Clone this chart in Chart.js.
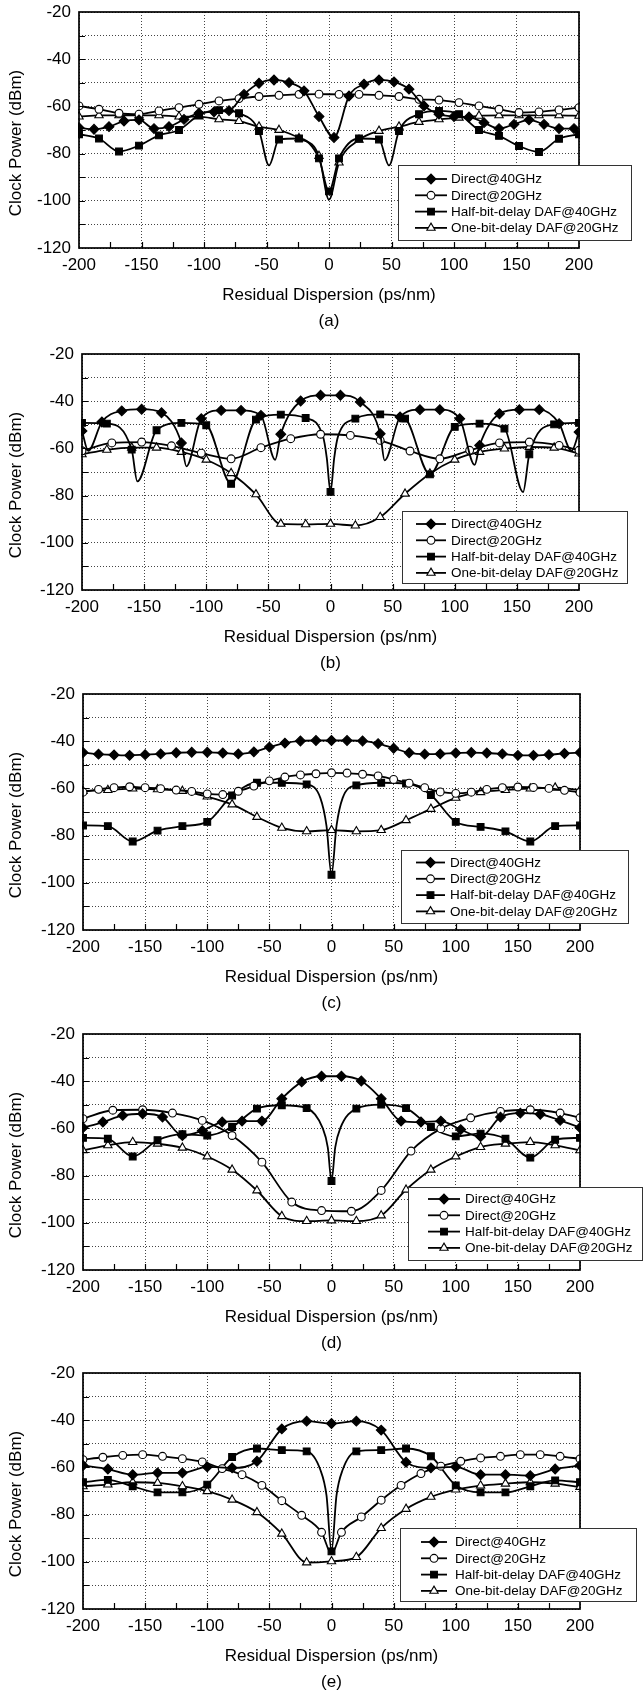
<!DOCTYPE html>
<html><head><meta charset="utf-8">
<script src="https://cdn.jsdelivr.net/npm/chart.js@4.4.1/dist/chart.umd.min.js"></script>
<style>
html,body{margin:0;padding:0;background:#fff;}
body{width:643px;height:1690px;position:relative;overflow:hidden;}
canvas{position:absolute;left:0;}
</style></head><body>
<script>
// ---------- data ----------
const seriesNames = ['Direct@40GHz','Direct@20GHz','Half-bit-delay DAF@40GHz','One-bit-delay DAF@20GHz'];
const panelLabels = ['(a)','(b)','(c)','(d)','(e)'];
const xTitle = 'Residual Dispersion (ps/nm)';
const yTitle = 'Clock Power (dBm)';

// panel (a)
const aDirect40 = [[-200,-69],[-188,-69.7],[-176,-68.6],[-164,-66.2],[-152,-65.7],[-140,-69.4],[-128,-68.6],[-116,-65.5],[-104,-62.9],[-92,-62.3],[-80,-61.8],[-68,-54.9],[-56,-50.2],[-44,-48.8],[-32,-49.9],[-20,-53.4],[-8,-64.3],[4,-73.2],[16,-55.6],[28,-50.6],[40,-48.8],[52,-49.6],[64,-52.7],[76,-59.8],[88,-63.3],[100,-64.3],[112,-64.5],[124,-66.9],[136,-69.4],[148,-67.6],[160,-65.7],[172,-67.6],[184,-69.4],[196,-69.4]];
const aDirect20 = [[-200,-59.8],[-184,-61.2],[-168,-62.9],[-152,-63.3],[-136,-61.9],[-120,-60.5],[-104,-59.1],[-88,-57.7],[-72,-56.7],[-56,-55.8],[-40,-55.3],[-24,-54.9],[-8,-54.8],[8,-54.9],[24,-54.9],[40,-55.3],[56,-55.8],[72,-57],[88,-57.3],[104,-58.4],[120,-59.8],[136,-61.2],[152,-62.6],[168,-62.3],[184,-61.5],[200,-60.5]];
const aHalfBit = [[-200,-71.8],[-184,-73.6],[-168,-79.1],[-152,-76.6],[-136,-72.3],[-120,-70],[-104,-63.7],[-88,-61.6],[-72,-62.9],[-56,-70.4],[-40,-74],[-24,-73.6],[-8,-82],[0,-96],[8,-82],[24,-73.6],[40,-74],[56,-70.4],[72,-63.3],[88,-61.9],[104,-63.3],[120,-70],[136,-72.5],[152,-76.8],[168,-79.3],[184,-73.7],[200,-71.8]];
const aHalfBitTips = [[-48,-85],[48,-85]];
const aOneBit = [[-200,-64.3],[-184,-63.8],[-168,-63.8],[-152,-63.8],[-136,-63.8],[-120,-64.3],[-104,-64.3],[-88,-65.5],[-72,-66.2],[-56,-68.6],[-40,-70],[-24,-73.5],[-8,-81],[8,-83.8],[24,-74.2],[40,-70.4],[56,-68.6],[72,-66.6],[88,-65.5],[104,-64.8],[120,-64],[136,-63.8],[152,-63.8],[168,-63.8],[184,-63.8],[200,-64]];
const aOneBitTips = [[0,-99.5]];

// panel (b)
const bDirect40 = [[-200,-52.6],[-184,-48.8],[-168,-44.1],[-152,-43.4],[-136,-44.9],[-120,-57.7],[-104,-47.4],[-88,-43.9],[-72,-43.9],[-56,-46],[-40,-54],[-24,-39.9],[-8,-37.5],[8,-37.5],[24,-40.3],[40,-53.8],[56,-46.7],[72,-43.6],[88,-43.6],[104,-47.4],[120,-58.7],[136,-45.3],[152,-43.6],[168,-43.6],[184,-49.5],[200,-53.1]];
const bDirect40Tips = [[-195,-61],[-116,-67.6],[-44.5,-64.8],[43.5,-65.1],[116,-67],[194,-61]];
const bDirect20 = [[-200,-61],[-176,-57.7],[-152,-57.3],[-128,-58.9],[-104,-62],[-80,-64.4],[-56,-59.7],[-32,-55.9],[-8,-54],[16,-54.5],[40,-56.6],[64,-61.1],[88,-64.4],[112,-60.8],[136,-57.7],[160,-57.3],[184,-58.7],[200,-60.8]];
const bHalfBit = [[-200,-49.2],[-180,-49.5],[-160,-60.5],[-140,-52.3],[-120,-49.2],[-100,-50.2],[-80,-75],[-60,-47.8],[-40,-45.7],[-20,-47.1],[0,-78.4],[20,-47.4],[40,-45.6],[60,-47.4],[80,-71],[100,-50.9],[120,-49.5],[140,-51.6],[160,-62.5],[180,-49.8],[200,-49.2]];
const bHalfBitTips = [[-155.5,-74],[-6,-55],[-3,-64],[3,-64],[6,-55],[155,-78.5]];
const bOneBit = [[-200,-62.5],[-180,-60.6],[-160,-59.7],[-140,-59.7],[-120,-61.5],[-100,-64.8],[-80,-70.5],[-60,-79.5],[-40,-92],[-20,-92.2],[0,-92],[20,-92.7],[40,-89.1],[60,-79.2],[80,-70.7],[100,-64.8],[120,-61.5],[140,-60.1],[160,-59.4],[180,-59.7],[200,-62.2]];

// panel (c)
const cDirect40 = [[-200,-44.8],[-187.5,-45.5],[-175,-45.8],[-162.5,-46],[-150,-45.7],[-137.5,-45.4],[-125,-44.9],[-112.5,-44.7],[-100,-44.7],[-87.5,-45],[-75,-45.4],[-62.5,-44.5],[-50,-42.5],[-37.5,-40.8],[-25,-39.9],[-12.5,-39.7],[0,-39.7],[12.5,-39.7],[25,-39.9],[37.5,-41],[50,-43],[62.5,-44.9],[75,-45.5],[87.5,-45.4],[100,-45],[112.5,-44.8],[125,-45],[137.5,-45.4],[150,-46],[162.5,-46],[175,-45.7],[187.5,-45.2],[200,-44.8]];
const cDirect20 = [[-200,-61.6],[-187.5,-60.4],[-175,-59.7],[-162.5,-59.3],[-150,-59.7],[-137.5,-60.1],[-125,-60.7],[-112.5,-61.3],[-100,-62.3],[-87.5,-62.6],[-75,-61.2],[-62.5,-59],[-50,-56.8],[-37.5,-55.2],[-25,-54.3],[-12.5,-53.8],[0,-53.4],[12.5,-53.5],[25,-54],[37.5,-54.7],[50,-56.2],[62.5,-57.8],[75,-59.7],[87.5,-61.5],[100,-62.1],[112.5,-61.6],[125,-60.4],[137.5,-59.7],[150,-59.4],[162.5,-59.6],[175,-60],[187.5,-60.8],[200,-61.7]];
const cHalfBit = [[-200,-75.7],[-180,-76],[-160,-82.5],[-140,-77.9],[-120,-76],[-100,-74.2],[-80,-63],[-60,-57.6],[-40,-57.6],[-20,-58.3],[0,-96.6],[20,-58.7],[40,-57.6],[60,-57.9],[80,-62.8],[100,-74.2],[120,-76.3],[140,-78.2],[160,-82.5],[180,-76],[200,-75.7]];
const cHalfBitTips = [[-9,-64],[-4,-76],[4,-76],[9,-64]];
const cOneBit = [[-200,-61.1],[-180,-60.7],[-160,-60.1],[-140,-60.4],[-120,-61.1],[-100,-63.5],[-80,-66.8],[-60,-72.1],[-40,-76.7],[-20,-78.2],[0,-77.7],[20,-78.2],[40,-77.7],[60,-73.5],[80,-68.7],[100,-64],[120,-61.6],[140,-60.7],[160,-60.1],[180,-59.7],[200,-60.7]];

// panel (d)
const dDirect40 = [[-200,-59.7],[-184,-57.3],[-168,-54.5],[-152,-53.8],[-136,-55.2],[-120,-63],[-104,-61],[-88,-57.3],[-72,-56.9],[-56,-56.9],[-40,-47.4],[-24,-40.3],[-8,-37.9],[8,-37.9],[24,-39.9],[40,-47.4],[56,-56.9],[72,-57.3],[88,-56.9],[104,-60.5],[120,-63.5],[136,-55.2],[152,-53.5],[168,-54],[184,-56.6],[200,-59.7]];
const dDirect20 = [[-200,-55.9],[-176,-52.3],[-152,-52.1],[-128,-53.5],[-104,-56.6],[-80,-63],[-56,-74.3],[-32,-91.2],[-8,-94.8],[16,-95.1],[40,-86.3],[64,-69.6],[88,-60.1],[112,-55.5],[136,-52.8],[160,-52.1],[184,-53.5],[200,-55.5]];
const dHalfBit = [[-200,-64],[-180,-64.4],[-160,-71.9],[-140,-65],[-120,-62.5],[-100,-63],[-80,-59.4],[-60,-51.6],[-40,-50.2],[-20,-51.4],[0,-82.3],[20,-51.6],[40,-49.9],[60,-51.4],[80,-59.4],[100,-63.4],[120,-62.2],[140,-64.4],[160,-72.4],[180,-64.8],[200,-64]];
const dHalfBitTips = [[-7,-60],[-3,-68],[3,-68],[7,-60]];
const dOneBit = [[-200,-69.3],[-180,-67.2],[-160,-65.8],[-140,-66.5],[-120,-68.2],[-100,-71.9],[-80,-77.5],[-60,-86.3],[-40,-97.2],[-20,-99.3],[0,-99],[20,-99.3],[40,-96.9],[60,-86],[80,-77.5],[100,-71.9],[120,-67.9],[140,-66.5],[160,-65.8],[180,-67.2],[200,-69.3]];

// panel (e)
const eDirect40 = [[-200,-59.2],[-180,-60.7],[-160,-63.1],[-140,-62.3],[-120,-62.3],[-100,-59.8],[-80,-60.2],[-60,-57.4],[-40,-43.7],[-20,-40.4],[0,-41.4],[20,-40.4],[40,-44.2],[60,-57.8],[80,-60.2],[100,-59.8],[120,-63.1],[140,-63.1],[160,-63.5],[180,-60.7],[200,-59.2]];
const eDirect20 = [[-200,-56.7],[-184,-55.7],[-168,-54.9],[-152,-54.6],[-136,-55.3],[-120,-56.3],[-104,-57.7],[-88,-60.5],[-72,-63.1],[-56,-67.6],[-40,-74.1],[-24,-80.3],[-8,-87.5],[8,-87.5],[24,-81],[40,-73.9],[56,-67.6],[72,-62.6],[88,-59.5],[104,-57.4],[120,-56],[136,-55.3],[152,-54.6],[168,-54.6],[184,-55.3],[200,-56.4]];
const eDirect20Tips = [[0,-96.5]];
const eHalfBit = [[-200,-66.3],[-180,-65.3],[-160,-68],[-140,-70.6],[-120,-70.6],[-100,-67.3],[-80,-55.6],[-60,-52],[-40,-52.7],[-20,-53.2],[0,-95.6],[20,-53.2],[40,-52.7],[60,-52],[80,-55.3],[100,-67.6],[120,-70.6],[140,-70.6],[160,-68],[180,-65.5],[200,-66.3]];
const eHalfBitTips = [[-9,-61],[-4,-72],[4,-72],[9,-61]];
const eOneBit = [[-200,-68],[-180,-67.3],[-160,-66.3],[-140,-66.6],[-120,-68],[-100,-70.1],[-80,-73.7],[-60,-79],[-40,-88.1],[-20,-100.3],[0,-99.8],[20,-98],[40,-85.7],[60,-77.6],[80,-72.5],[100,-69.4],[120,-67.7],[140,-66.9],[160,-66.3],[180,-66.9],[200,-68.3]];

// ---------- build helpers ----------
function mk(points, tips){
  const arr = points.map(p => ({x:p[0], y:p[1], m:true}));
  (tips || []).forEach(p => arr.push({x:p[0], y:p[1], m:false}));
  arr.sort((a,b) => a.x - b.x);
  return arr;
}

const FONT = '"Liberation Sans", Arial, Helvetica, sans-serif';
Chart.defaults.font.family = FONT;
Chart.defaults.font.size = 17;
Chart.defaults.color = '#000';

const STYLES = [
  {pointStyle:'rectRot', radius:4.9, fill:'#000'},
  {pointStyle:'circle', radius:3.9, fill:'#fff'},
  {pointStyle:'rect', radius:4.8, fill:'#000'},
  {pointStyle:'triangle', radius:4.8, fill:'#fff'}
];

const PANELS = [
  {series:[mk(aDirect40), mk(aDirect20), mk(aHalfBit, aHalfBitTips), mk(aOneBit, aOneBitTips)],
   plot:{top:12, left:79, right:579},
   legend:{left:398, top:165, right:631, bottom:240, lx1:415, lx2:447, tx:451, row0:14}},
  {series:[mk(bDirect40, bDirect40Tips), mk(bDirect20), mk(bHalfBit, bHalfBitTips), mk(bOneBit)],
   plot:{top:354, left:82, right:579},
   legend:{left:402, top:511, right:627, bottom:583, lx1:416, lx2:446, tx:451, row0:13}},
  {series:[mk(cDirect40), mk(cDirect20), mk(cHalfBit, cHalfBitTips), mk(cOneBit)],
   plot:{top:694, left:83, right:580},
   legend:{left:401, top:850, right:628, bottom:923, lx1:416, lx2:445, tx:450, row0:12.5}},
  {series:[mk(dDirect40), mk(dDirect20), mk(dHalfBit, dHalfBitTips), mk(dOneBit)],
   plot:{top:1034, left:83, right:580},
   legend:{left:408, top:1187, right:642, bottom:1260, lx1:428, lx2:460, tx:465, row0:12}},
  {series:[mk(eDirect40), mk(eDirect20, eDirect20Tips), mk(eHalfBit, eHalfBitTips), mk(eOneBit)],
   plot:{top:1373, left:83, right:580},
   legend:{left:400, top:1528, right:636, bottom:1601, lx1:421, lx2:447, tx:455, row0:14}}
];

const PAD_T = 20, PLOT_H = 236, XAXIS_H = 58, CANVAS_H = 342;
const GRID = '#444';

function drawMarker(ctx, st, x, y){
  const r = st.radius;
  ctx.beginPath();
  if (st.pointStyle === 'rectRot'){
    ctx.moveTo(x - r, y); ctx.lineTo(x, y - r); ctx.lineTo(x + r, y); ctx.lineTo(x, y + r); ctx.closePath();
  } else if (st.pointStyle === 'circle'){
    ctx.arc(x, y, r, 0, Math.PI * 2);
  } else if (st.pointStyle === 'rect'){
    const s = r * Math.SQRT1_2; ctx.rect(x - s, y - s, 2 * s, 2 * s);
  } else {
    ctx.moveTo(x, y - r); ctx.lineTo(x + 0.866 * r, y + 0.5 * r); ctx.lineTo(x - 0.866 * r, y + 0.5 * r); ctx.closePath();
  }
  ctx.fillStyle = st.fill; ctx.fill();
  ctx.lineWidth = 1.1; ctx.strokeStyle = '#000'; ctx.stroke();
}

const framePlugin = {
  id:'frame',
  afterDatasetsDraw(chart){
    const {ctx, chartArea:a, scales:{x, y}} = chart;
    ctx.save();
    ctx.strokeStyle = '#000';
    ctx.lineWidth = 1.2;
    ctx.beginPath();
    x.ticks.forEach(t => { if (t.value > -200 && t.value < 200){ const px = Math.round(x.getPixelForValue(t.value)) + 0.5; ctx.moveTo(px, a.bottom); ctx.lineTo(px, a.bottom - 6); }});
    y.ticks.forEach(t => { if (t.value > -120 && t.value < -20){ const py = Math.round(y.getPixelForValue(t.value)) + 0.5; ctx.moveTo(a.left, py); ctx.lineTo(a.left + 6, py); }});
    ctx.stroke();
    ctx.lineWidth = 1.7;
    ctx.strokeRect(a.left, a.top, a.right - a.left, a.bottom - a.top);
    ctx.restore();
  }
};

const legendPlugin = {
  id:'boxLegend',
  afterDraw(chart, args, o){
    const ctx = chart.ctx;
    ctx.save();
    ctx.fillStyle = '#fff';
    ctx.fillRect(o.left, o.top, o.right - o.left, o.bottom - o.top);
    ctx.strokeStyle = '#333'; ctx.lineWidth = 1;
    ctx.strokeRect(o.left + 0.5, o.top + 0.5, o.right - o.left, o.bottom - o.top);
    ctx.font = '13.5px ' + FONT;
    ctx.textAlign = 'left'; ctx.textBaseline = 'middle';
    seriesNames.forEach((name, k) => {
      const yy = o.top + o.row0 + k * 16.3;
      ctx.strokeStyle = '#000'; ctx.lineWidth = 1.8;
      ctx.beginPath(); ctx.moveTo(o.lx1, yy); ctx.lineTo(o.lx2, yy); ctx.stroke();
      drawMarker(ctx, STYLES[k], (o.lx1 + o.lx2) / 2, yy);
      ctx.fillStyle = '#000';
      ctx.fillText(name, o.tx, yy + 0.5);
    });
    ctx.restore();
  }
};

const textPlugin = {
  id:'panelText',
  afterDraw(chart, args, o){
    const {ctx, chartArea:a} = chart;
    ctx.save();
    ctx.fillStyle = '#000';
    ctx.font = '17px ' + FONT;
    ctx.textAlign = 'center'; ctx.textBaseline = 'middle';
    ctx.fillText(o.label, (a.left + a.right) / 2, a.bottom + 73);
    ctx.translate(16.5, (a.top + a.bottom) / 2 + 13);
    ctx.rotate(-Math.PI / 2);
    ctx.fillText(yTitle, 0, 0);
    ctx.restore();
  }
};

PANELS.forEach((P, i) => {
  const cv = document.createElement('canvas');
  const top = P.plot.top - PAD_T;
  cv.width = 643; cv.height = CANVAS_H;
  cv.style.top = top + 'px';
  document.body.appendChild(cv);
  const L = P.legend;
  const legendOpts = {left:L.left, right:L.right, top:L.top - top, bottom:L.bottom - top, lx1:L.lx1, lx2:L.lx2, tx:L.tx, row0:L.row0};
  new Chart(cv, {
    type:'line',
    data:{datasets: P.series.map((d, k) => ({
      label: seriesNames[k],
      data: d,
      borderColor:'#000',
      borderWidth:1.8,
      fill:false,
      clip:1,
      cubicInterpolationMode:'monotone',
      pointStyle: STYLES[k].pointStyle,
      pointRadius: c => (c.raw && c.raw.m) ? STYLES[k].radius : 0,
      pointHoverRadius: 0,
      pointBackgroundColor: STYLES[k].fill,
      pointBorderColor:'#000',
      pointBorderWidth:1.1
    }))},
    options:{
      responsive:false, animation:false, devicePixelRatio:1,
      events:[],
      layout:{padding:{top:PAD_T, left:0, right:643 - P.plot.right, bottom:CANVAS_H - PAD_T - PLOT_H - XAXIS_H}},
      plugins:{
        legend:{display:false}, tooltip:{enabled:false},
        boxLegend: legendOpts,
        panelText:{label: panelLabels[i]}
      },
      scales:{
        x:{
          type:'linear', min:-200, max:200,
          afterFit(s){ s.height = XAXIS_H; },
          ticks:{stepSize:25, autoSkip:false, maxRotation:0, padding:7.5, font:{size:17},
                 callback: v => (v % 50 === 0) ? String(v) : ''},
          grid:{drawTicks:false, lineWidth:1, color: c => (c.tick && c.tick.value % 50 === 0) ? GRID : 'rgba(0,0,0,0)'},
          border:{display:false, dash:[1,2]},
          title:{display:true, text:xTitle, font:{size:17}, padding:{top:0, bottom:0}}
        },
        y:{
          min:-120, max:-20,
          afterFit(s){ s.width = P.plot.left; },
          ticks:{stepSize:10, padding:8, font:{size:17},
                 callback: v => (v % 20 === 0) ? String(v) : ''},
          grid:{drawTicks:false, lineWidth:1, color:GRID},
          border:{display:false, dash:[1,2]},
          title:{display:false}
        }
      }
    },
    plugins:[framePlugin, legendPlugin, textPlugin]
  });
});
</script>
</body></html>
